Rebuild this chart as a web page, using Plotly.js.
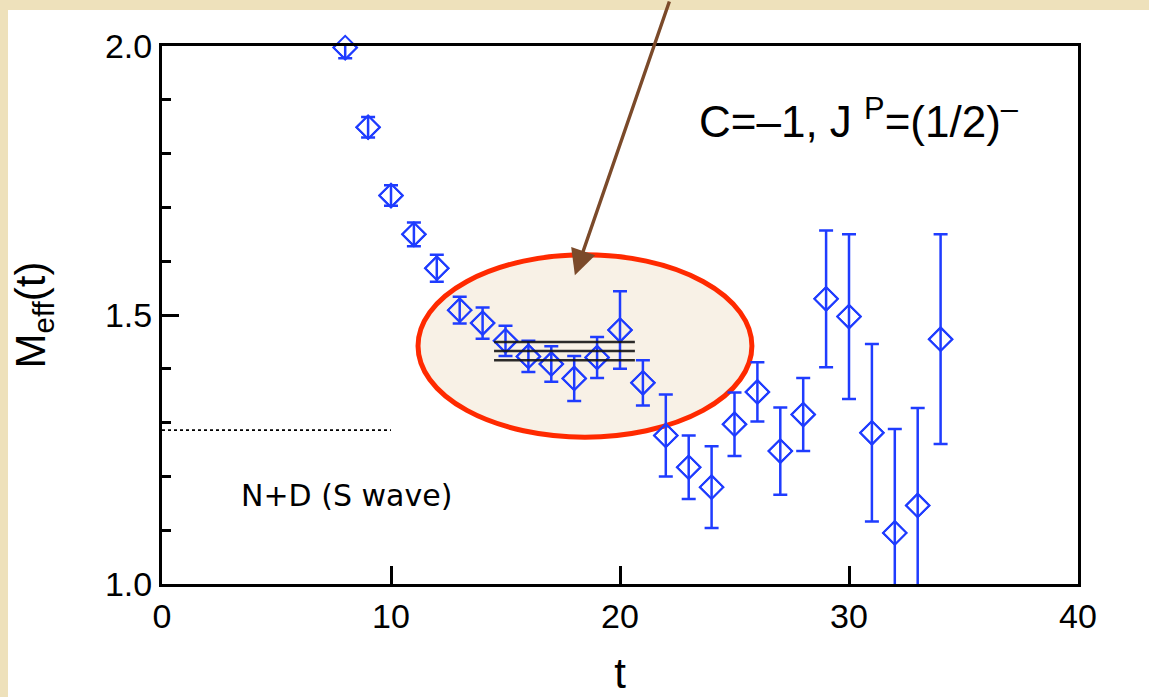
<!DOCTYPE html>
<html>
<head>
<meta charset="utf-8">
<script src="https://cdn.plot.ly/plotly-3.0.1.min.js"></script>
<style>
html,body{margin:0;padding:0;background:#ffffff;overflow:hidden;}
#chart{width:1149px;height:697px;}
</style>
</head>
<body>
<div id="chart"></div>
<script>
// ---- data ----
var tValues = [8, 9, 10, 11, 12, 13, 14, 15, 16, 17, 18, 19, 20, 21, 22, 23, 24, 25, 26, 27, 28, 29, 30, 31, 32, 33, 34];
var meffValues = [1.997, 1.849, 1.722, 1.650, 1.587, 1.509, 1.485, 1.452, 1.423, 1.409, 1.382, 1.421, 1.472, 1.374,
                  1.276, 1.217, 1.180, 1.297, 1.357, 1.247, 1.315, 1.530, 1.497, 1.281, 1.095, 1.146, 1.455];
var meffErrors = [0.020, 0.019, 0.019, 0.022, 0.025, 0.025, 0.029, 0.028, 0.029, 0.033, 0.042, 0.038, 0.072, 0.042,
                  0.076, 0.059, 0.076, 0.059, 0.055, 0.081, 0.068, 0.127, 0.153, 0.165, 0.193, 0.181, 0.195];
var fitRange = [14.5, 20.65];
var fitLevels = [1.450, 1.433, 1.416];          // fit value and +/- error band
var thresholdRange = [0, 10];
var thresholdLevel = 1.286;                     // N+D (S wave) threshold
var xTicks = [0, 10, 20, 30, 40];
var yTicks = [1.0, 1.5, 2.0];
var yTickLabels = ['1.0', '1.5', '2.0'];

var blue = '#1f3cff';
var tickFont = {family: 'Liberation Sans, Arial, sans-serif', size: 34, color: '#000'};

var traces = [];
// data with error bars (clipped to plot area)
traces.push({
  x: tValues, y: meffValues, type: 'scatter', mode: 'markers',
  marker: {symbol: 'diamond-open', size: 18, color: blue, line: {width: 2, color: blue}},
  error_y: {type: 'data', array: meffErrors, visible: true, color: blue, thickness: 2.5, width: 7},
  cliponaxis: true, showlegend: false, hoverinfo: 'x+y'
});
// marker overlay, not clipped (first point sits on the top frame)
traces.push({
  x: tValues, y: meffValues, type: 'scatter', mode: 'markers',
  marker: {symbol: 'diamond-open', size: 18, color: blue, line: {width: 2, color: blue}},
  cliponaxis: false, showlegend: false, hoverinfo: 'skip'
});
// threshold dashed line
traces.push({
  x: thresholdRange, y: [thresholdLevel, thresholdLevel], type: 'scatter', mode: 'lines',
  line: {color: '#000', width: 1.6, dash: '3px,3px'}, showlegend: false, hoverinfo: 'skip'
});
// fit lines
fitLevels.forEach(function (v) {
  traces.push({
    x: fitRange, y: [v, v], type: 'scatter', mode: 'lines',
    line: {color: 'rgba(20,20,20,0.9)', width: 2.5}, showlegend: false, hoverinfo: 'skip'
  });
});

var layout = {
  width: 1149, height: 697,
  paper_bgcolor: '#ffffff', plot_bgcolor: '#ffffff',
  margin: {l: 162, r: 71, t: 46, b: 113},
  showlegend: false,
  xaxis: {
    range: [0, 40], tickvals: xTicks, ticktext: xTicks.map(String),
    ticks: 'inside', ticklen: 18, tickwidth: 3, tickcolor: '#000',
    showline: true, linewidth: 3, linecolor: '#000', mirror: true,
    showgrid: false, zeroline: false, tickfont: tickFont,
    title: {text: 't', font: {family: 'Liberation Sans, Arial, sans-serif', size: 42, color: '#000'}, standoff: 33}
  },
  yaxis: {
    range: [1.0, 2.0], tickvals: yTicks, ticktext: yTickLabels,
    ticks: 'inside', ticklen: 17, tickwidth: 3, tickcolor: '#000',
    minor: {dtick: 0.1, ticks: 'inside', ticklen: 9, tickwidth: 3, tickcolor: '#000', showgrid: false},
    showline: true, linewidth: 3, linecolor: '#000', mirror: true,
    showgrid: false, zeroline: false, tickfont: tickFont,
    title: {text: 'M<sub>eff</sub>(t)', font: {family: 'Liberation Sans, Arial, sans-serif', size: 42, color: '#000'}, standoff: 47}
  },
  shapes: [
    // parchment border strips
    {type: 'rect', xref: 'paper', yref: 'paper', x0: -0.2, x1: 1.2, y0: 1 + 36/538, y1: 1.2,
     fillcolor: '#eee1bb', line: {width: 0}, layer: 'below'},
    {type: 'rect', xref: 'paper', yref: 'paper', x0: -0.2, x1: -154/916, y0: -0.3, y1: 1.2,
     fillcolor: '#eee1bb', line: {width: 0}, layer: 'below'},
    // highlighted ellipse
    {type: 'circle', xref: 'x', yref: 'y', x0: 11.18, x1: 25.76, y0: 1.273, y1: 1.612,
     fillcolor: '#f8f1e6', line: {color: '#ff2a00', width: 5}, layer: 'below'}
  ],
  annotations: [
    {x: 18.03, y: 1.574, xref: 'x', yref: 'y', text: '', showarrow: true,
     ax: 95, ay: -285, arrowhead: 2, arrowsize: 1.5, arrowwidth: 3.4, arrowcolor: '#7b4a2a', standoff: 0},
    {x: 8.05, y: 1.165, xref: 'x', yref: 'y', text: 'N+D (S wave)', showarrow: false,
     xanchor: 'center', yanchor: 'middle',
     font: {family: 'DejaVu Sans, Verdana, sans-serif', size: 30, color: '#000'}},
    {x: 23.36, y: 1.866, xref: 'x', yref: 'y', text: 'C=–1, J <sup>P</sup>=(1/2)<sup>–</sup>', showarrow: false,
     xanchor: 'left', yanchor: 'middle',
     font: {family: 'Liberation Sans, Arial, sans-serif', size: 44, color: '#000'}}
  ]
};

Plotly.newPlot('chart', traces, layout, {displayModeBar: false, staticPlot: true});
</script>
</body>
</html>
